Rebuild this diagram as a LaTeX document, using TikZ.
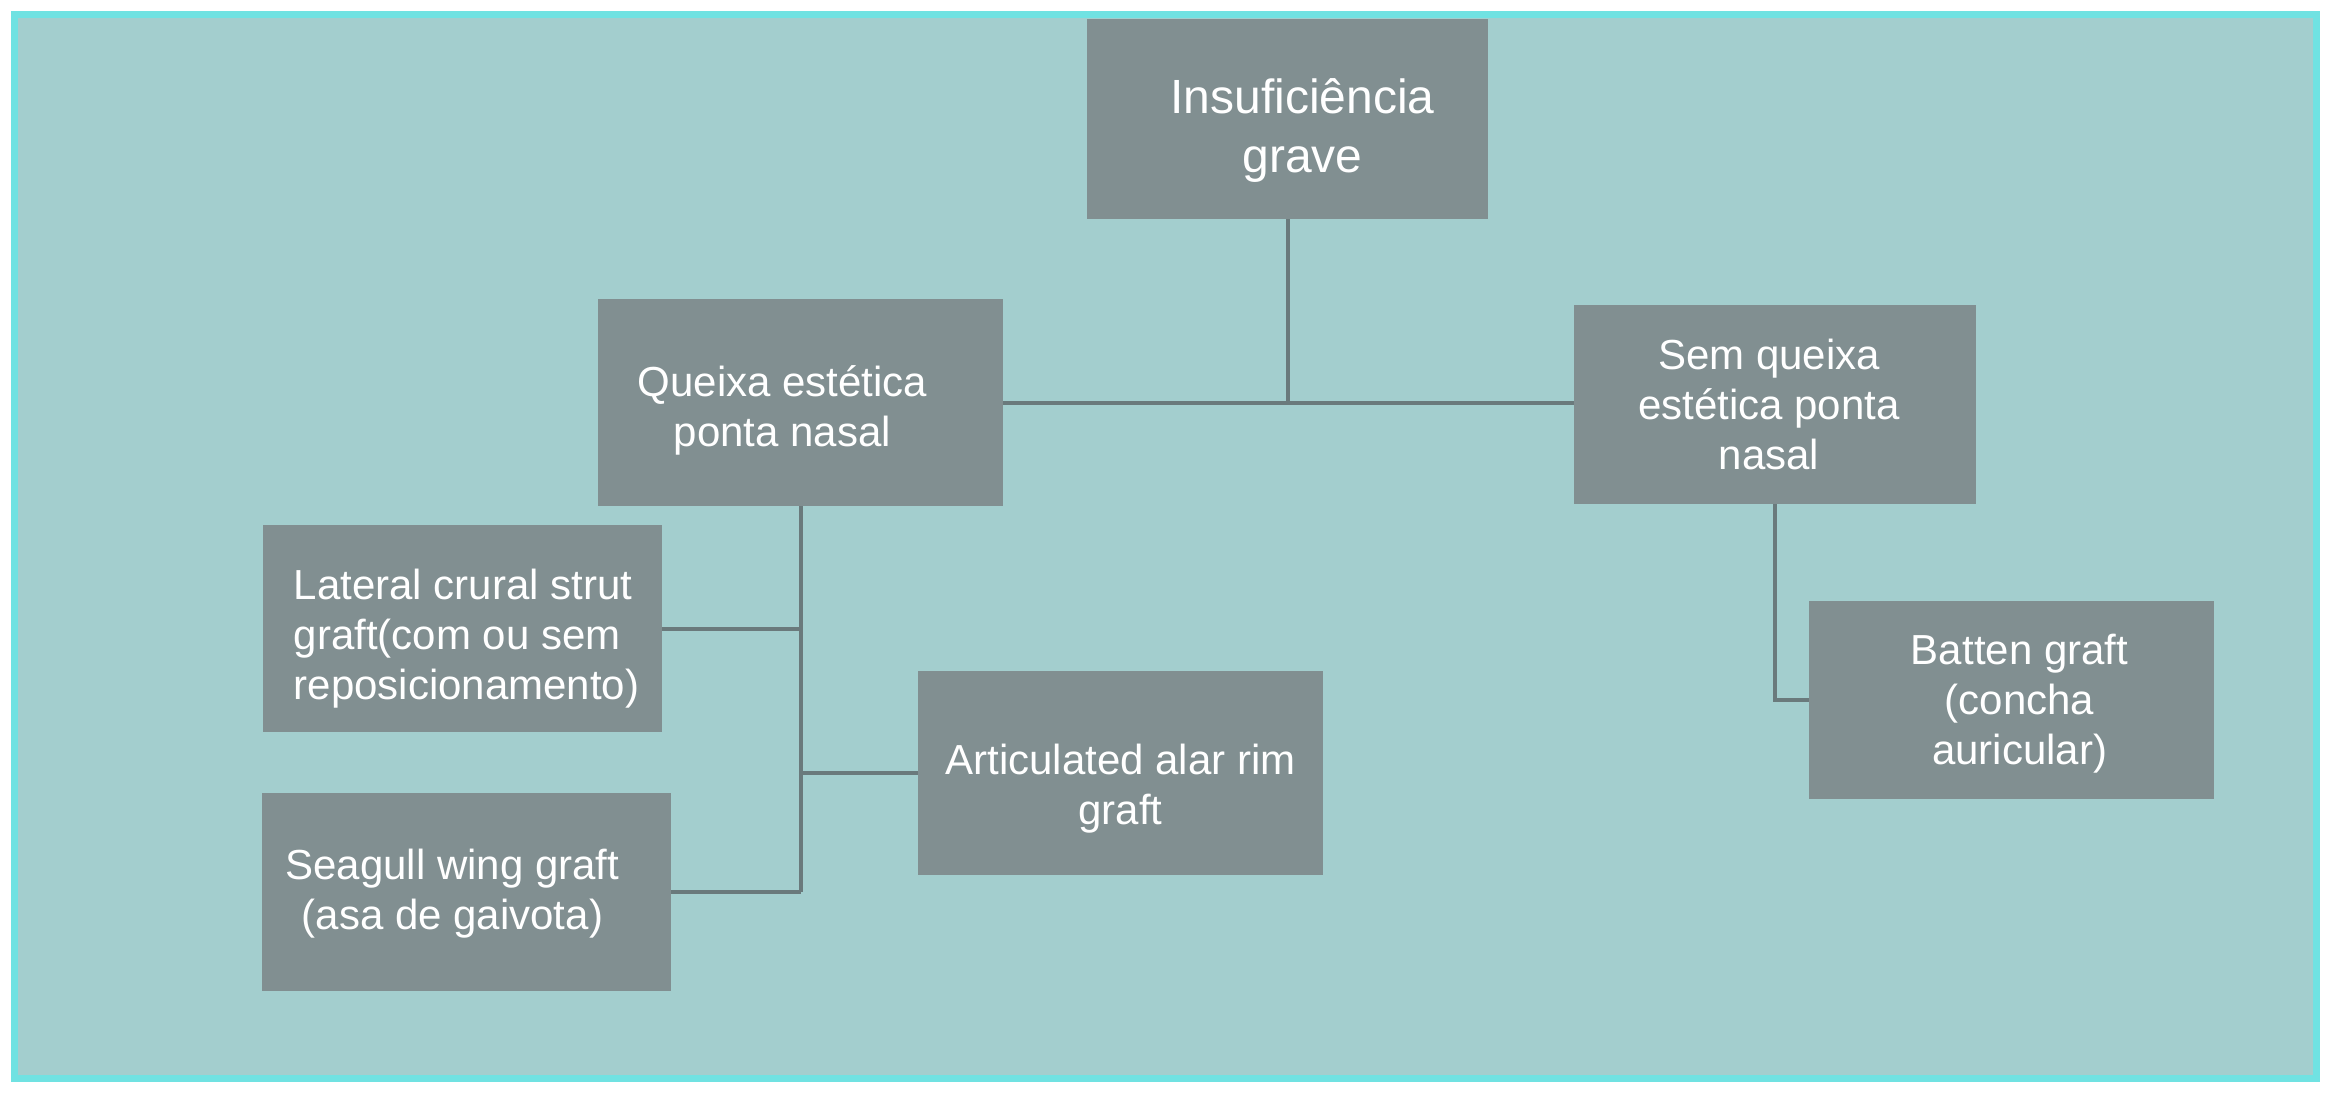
\documentclass[tikz,border=0pt]{standalone}
\usepackage{fontspec}
\setsansfont{Liberation Sans}
\usetikzlibrary{positioning}

\definecolor{fundo}{HTML}{A3CECE}
\definecolor{borda}{HTML}{70E2E2}
\definecolor{caixacor}{HTML}{818F91}
\definecolor{linhacor}{HTML}{6A7A7C}

\tikzset{
  caixa/.style={fill=caixacor, inner sep=0pt},
  texto/.style={text=white, font=\sffamily\fontsize{42}{50}\selectfont, align=center, inner sep=0pt},
  ligacao/.style={draw=linhacor, line width=4pt}
}

\begin{document}
\begin{tikzpicture}[x=1pt,y=-1pt]
	\useasboundingbox (0,0) rectangle (2333,1093);
	\fill[white] (0,0) rectangle (2333,1093);
	\draw[fill=fundo, draw=borda, line width=7pt] (14,14) rectangle (2316,1078);
	% caixas
	\node[caixa, minimum width=401, minimum height=200] (topo) at (1287.5,119) {};
	\node[caixa, minimum width=405, minimum height=207] (queixa) at (800.5,402.5) {};
	\node[caixa, minimum width=402, minimum height=199] (semqueixa) at (1775,404.5) {};
	\node[caixa, minimum width=399, minimum height=207] (lateral) at (462.5,628.5) {};
	\node[caixa, minimum width=409, minimum height=198] (seagull) at (466.5,892) {};
	\node[caixa, minimum width=405, minimum height=204] (articulado) at (1120.5,773) {};
	\node[caixa, minimum width=405, minimum height=198] (batten) at (2011.5,700) {};
	% textos
	\node[texto, font=\sffamily\fontsize{48}{59}\selectfont] (ttopo) at ([xshift=15,yshift=-12]topo.center) {Insuficiência\\grave};
	\node[texto] (tqueixa) at ([xshift=-18,yshift=-8]queixa.center) {Queixa estética\\ponta nasal};
	\node[texto] (tsemqueixa) at ([xshift=-6]semqueixa.center) {Sem queixa\\estética ponta\\nasal};
	\node[texto, align=left] (tlateral) at ([xshift=4,yshift=-10]lateral.center) {Lateral crural strut\\graft(com ou sem\\reposicionamento)};
	\node[texto] (tseagull) at ([xshift=-14,yshift=-2]seagull.center) {Seagull wing graft\\ (asa de gaivota)};
	\node[texto] (tarticulado) at ([yshift=-16]articulado.center) {Articulated alar rim\\graft};
	\node[texto] (tbatten) at ([xshift=8,yshift=-4]batten.center) {Batten graft\\(concha\\auricular)};
	% ligacoes
	\draw[ligacao] (topo.south) -- (topo.south |- queixa.east);
	\draw[ligacao] (queixa.east) -- (queixa.east -| semqueixa.west);
	\draw[ligacao] (queixa.south) -- (queixa.south |- seagull.east);
	\draw[ligacao] (lateral.east) -- (lateral.east -| queixa.south);
	\draw[ligacao] (articulado.west) -- (articulado.west -| queixa.south);
	\draw[ligacao] (seagull.east) -- (seagull.east -| queixa.south);
	\draw[ligacao] (semqueixa.south) |- (batten.west);
\end{tikzpicture}
\end{document}
